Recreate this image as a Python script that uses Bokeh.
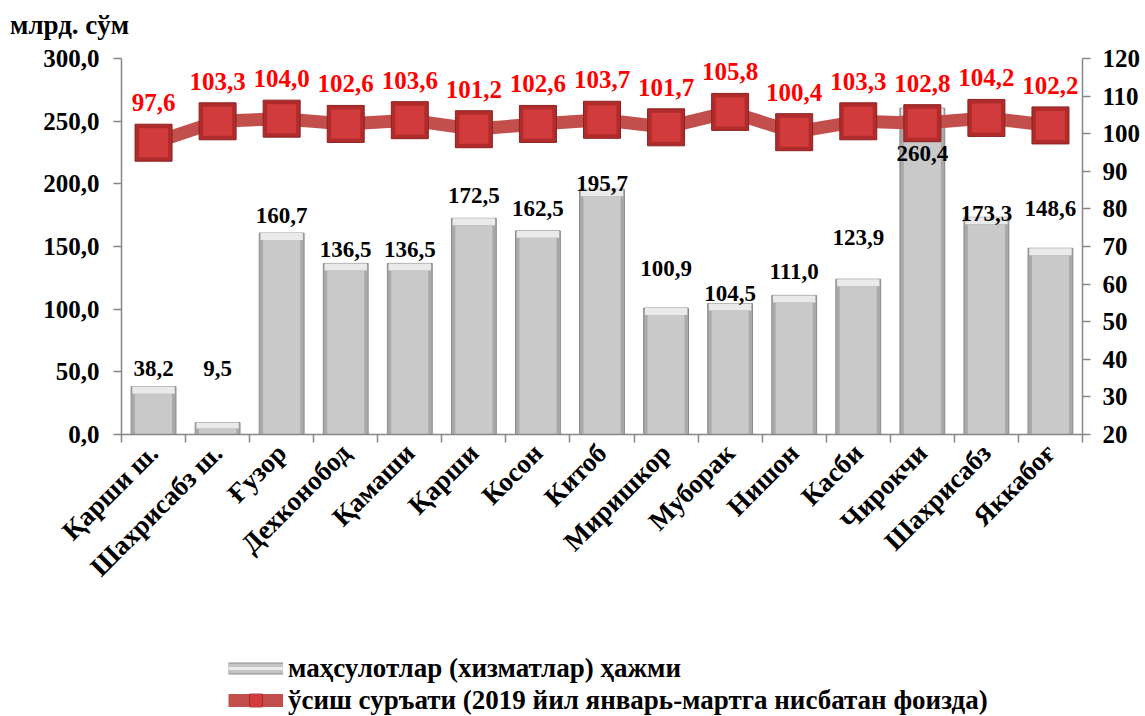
import math
from bokeh.plotting import figure
from bokeh.layouts import column
from bokeh.models import (Range1d, LinearAxis, FixedTicker, CustomJSTickFormatter,
                          ColumnDataSource, Legend, LegendItem, Div)
from bokeh.core.properties import value
from bokeh.embed import file_html
from bokeh.resources import INLINE

# ---- data ----
categories = ["Қарши ш.", "Шахрисабз ш.", "Ғузор", "Дехконобод", "Қамаши", "Қарши",
              "Косон", "Китоб", "Миришкор", "Муборак", "Нишон", "Касби", "Чирокчи",
              "Шахрисабз", "Яккабоғ"]
volume = [38.2, 9.5, 160.7, 136.5, 136.5, 172.5, 162.5, 195.7, 100.9, 104.5, 111.0,
          123.9, 260.4, 173.3, 148.6]
growth = [97.6, 103.3, 104.0, 102.6, 103.6, 101.2, 102.6, 103.7, 101.7, 105.8, 100.4,
          103.3, 102.8, 104.2, 102.2]
# where each volume label sits (left-axis units), as placed in the original
volume_label_at = [52.7, 52.7, 174.7, 147.5, 147.5, 190.7, 180.3, 200.3, 132.4, 112.5,
                   130.0, 157.2, 224.2, 176.3, 180.3]
left_ticks = [0, 50, 100, 150, 200, 250, 300]
right_ticks = [20, 30, 40, 50, 60, 70, 80, 90, 100, 110, 120]
unit_label = "млрд. сўм"
legend_bar = "маҳсулотлар (хизматлар) ҳажми"
legend_line = "ўсиш суръати (2019 йил январь-мартга нисбатан фоизда)"

def fmt(v):
    return f"{v:.1f}".replace(".", ",")

n = len(categories)
xc = [i + 0.5 for i in range(n)]
src = ColumnDataSource(dict(
    x=xc, vol=volume, gro=growth,
    face_top=[max(v - 5.6, v * 0.5) for v in volume],
    band_bot=[max(v - 5.6, v * 0.5) for v in volume],
    lab_y=volume_label_at,
    vol_txt=[fmt(v) for v in volume],
    gro_txt=[fmt(v) for v in growth],
))

FONT = "Liberation Serif"
AX = "#868686"
LINE_C = "#C24F4C"
MK_OUT, MK_OUT_L, MK_IN = "#B02C2C", "#8E2020", "#D23B3B"

# ---- unit caption ----
head = Div(text=unit_label, width=1145, height=40,
           styles={"font-family": FONT, "font-weight": "bold", "font-size": "27px",
                   "line-height": "30px", "color": "black",
                   "padding-left": "10px", "padding-top": "10px",
                   "box-sizing": "border-box", "margin": "0"})

p = figure(width=1145, height=600, x_range=Range1d(0, n), y_range=Range1d(0, 300),
           output_backend="svg", toolbar_location=None,
           min_border_left=121, min_border_right=63, min_border_top=18, min_border_bottom=206)
p.outline_line_color = None
p.xgrid.visible = False
p.ygrid.visible = False
p.extra_y_ranges = {"right": Range1d(20, 120)}

# axes styling
p.xaxis.ticker = FixedTicker(ticks=xc, minor_ticks=list(range(n + 1)))
p.xaxis.major_label_overrides = {c: lab for c, lab in zip(xc, categories)}
p.xaxis.major_tick_out = 0
p.xaxis.major_tick_in = 0
p.xaxis.minor_tick_out = 8
p.xaxis.minor_tick_in = 0
p.xaxis.minor_tick_line_color = AX
p.xaxis.minor_tick_line_width = 1.5
p.xaxis.major_label_orientation = math.pi / 4
p.xaxis.major_label_standoff = 6

p.yaxis.ticker = FixedTicker(ticks=left_ticks, minor_ticks=[])
p.yaxis.formatter = CustomJSTickFormatter(code="return tick.toFixed(1).replace('.', ',');")
p.yaxis.major_label_standoff = 14

ra = LinearAxis(y_range_name="right", ticker=FixedTicker(ticks=right_ticks, minor_ticks=[]))
ra.major_label_standoff = 12
p.add_layout(ra, "right")

for ax in [p.xaxis[0], p.yaxis[0], ra]:
    ax.axis_line_color = AX
    ax.axis_line_width = 1.5
    ax.major_tick_line_color = AX
    ax.major_tick_line_width = 1.5
    ax.major_label_text_font = FONT
    ax.major_label_text_font_style = "bold"
    ax.major_label_text_color = "black"
    ax.major_label_text_font_size = "25px"
for ax in [p.yaxis[0], ra]:
    ax.major_tick_out = 8
    ax.major_tick_in = 0
    ax.minor_tick_out = 0
    ax.minor_tick_in = 0
p.xaxis.major_label_text_font_size = "27px"

# bars (bevelled look)
p.vbar(x="x", top="vol", bottom=0, width=0.7, source=src,
       fill_color="#A9A9A9", line_color="#8A8A8A", line_width=1)
p.vbar(x="x", top="vol", bottom="band_bot", width=0.66, source=src,
       fill_color="#EAEAEA", line_color=None)
p.vbar(x="x", top="face_top", bottom=0, width=0.58, source=src,
       fill_color="#C9C9C9", line_color=None)

# growth line with markers
p.line(x="x", y="gro", source=src, y_range_name="right", line_color=LINE_C, line_width=13)
p.scatter(x="x", y="gro", source=src, y_range_name="right", marker="square",
          size=37, fill_color=MK_OUT, line_color=MK_OUT_L, line_width=1)
p.scatter(x="x", y="gro", source=src, y_range_name="right", marker="square",
          size=29, fill_color=MK_IN, line_color=None)

# labels
p.text(x="x", y="lab_y", text="vol_txt", source=src, text_align="center",
       text_baseline="middle", text_font=value(FONT), text_font_style="bold",
       text_font_size="23px", text_color="black")
p.text(x="x", y="gro", text="gro_txt", source=src, y_range_name="right",
       text_align="center", text_baseline="middle", y_offset=-40,
       text_font=value(FONT), text_font_style="bold", text_font_size="25px",
       text_color="#FF0000")

# ---- legend strip (separate figure, glyphs kept out of view) ----
lf = figure(width=1145, height=76, x_range=Range1d(1000, 1001), y_range=Range1d(1000, 1001),
            output_backend="svg", toolbar_location=None,
            x_axis_location=None, y_axis_location=None,
            min_border_left=0, min_border_right=0, min_border_top=0, min_border_bottom=0)
lf.outline_line_color = None
lf.xgrid.visible = False
lf.ygrid.visible = False
b1 = lf.line(x="x", y="vol", source=src, line_color="#8A8A8A", line_width=12)
b2 = lf.line(x="x", y="vol", source=src, line_color="#C4C4C4", line_width=10)
b3 = lf.line(x="x", y="vol", source=src, line_color="#ECECEC", line_width=3)
l1 = lf.line(x="x", y="gro", source=src, line_color=LINE_C, line_width=13)
l2 = lf.scatter(x="x", y="gro", source=src, marker="square", size=37,
                fill_color=MK_OUT, line_color=MK_OUT_L, line_width=1)
l3 = lf.scatter(x="x", y="gro", source=src, marker="square", size=29,
                fill_color=MK_IN, line_color=None)

legend = Legend(items=[LegendItem(label=legend_bar, renderers=[b1, b2, b3]),
                       LegendItem(label=legend_line, renderers=[l1, l2, l3])],
                location=(107, 0), orientation="vertical")
legend.border_line_color = None
legend.background_fill_alpha = 0
legend.padding = 0
legend.margin = 0
legend.spacing = 0
legend.glyph_width = 55
legend.glyph_height = 32
legend.label_standoff = 5
legend.label_text_font = FONT
legend.label_text_font_style = "bold"
legend.label_text_font_size = "27px"
legend.label_text_color = "black"
legend.label_height = 32
lf.add_layout(legend, "center")

layout = column(head, p, lf, spacing=0)
open("out.html", "w").write(file_html(layout, INLINE))
